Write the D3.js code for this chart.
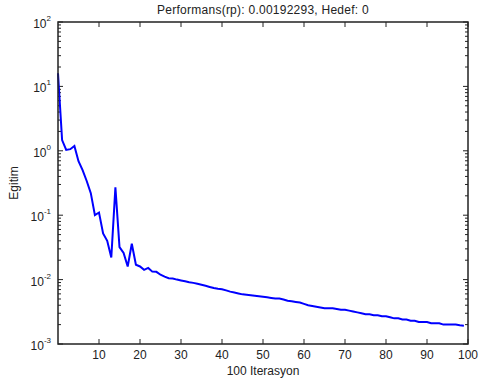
<!DOCTYPE html>
<html>
<head>
<meta charset="utf-8">
<script src="https://cdn.jsdelivr.net/npm/d3@7"></script>
<style>
  body { margin: 0; background: #fff; }
  text { font-family: "Liberation Sans", Arial, sans-serif; fill: #222; }
</style>
</head>
<body>
<svg id="chart" width="482" height="389"></svg>
<script>
// training performance per epoch
const epochs = d3.range(0, 101);
const perf = [
  16, 1.47, 1.03, 1.06, 1.19, 0.69, 0.5, 0.34, 0.22, 0.1,
  0.11, 0.052, 0.04, 0.022, 0.27, 0.032, 0.026, 0.016, 0.036, 0.017,
  0.016, 0.0142, 0.0152, 0.0133, 0.0132, 0.0119, 0.0111, 0.0105, 0.0104, 0.0100,
  0.0097, 0.0094, 0.0091, 0.0089, 0.0086, 0.0083, 0.0080, 0.0077, 0.0074, 0.0072,
  0.0071, 0.0068, 0.0065, 0.0063, 0.0061, 0.0059, 0.0058, 0.0057, 0.0056, 0.0055,
  0.0054, 0.0053, 0.0052, 0.0051, 0.0051, 0.0049, 0.0047, 0.0046, 0.0045, 0.0044,
  0.0042, 0.0040, 0.0039, 0.0038, 0.0037, 0.0036, 0.0036, 0.0036, 0.0035, 0.0034,
  0.0034, 0.0033, 0.0032, 0.0031, 0.0030, 0.0029, 0.0029, 0.0028, 0.0028, 0.0027,
  0.0027, 0.0026, 0.0025, 0.0025, 0.0024, 0.0024, 0.0023, 0.0023, 0.0022, 0.0022,
  0.0022, 0.0021, 0.0021, 0.0021, 0.0020, 0.0020, 0.0020, 0.0020, 0.00195, 0.00192293
];
const xTicks = [10, 20, 30, 40, 50, 60, 70, 80, 90, 100];
const yDecades = [-3, -2, -1, 0, 1, 2];

const svg = d3.select('#chart');
const margin = { left: 58, top: 22, right: 14, bottom: 45 };
const W = 482, H = 389;

const x = d3.scaleLinear().domain([0, 100]).range([margin.left, W - margin.right]);
const y = d3.scaleLog().domain([1e-3, 1e2]).range([H - margin.bottom, margin.top]);

// minor log ticks
const minor = [];
for (let d = -3; d < 2; d++) {
    for (let m = 2; m <= 9; m++) minor.push(m * Math.pow(10, d));
}

const g = svg.append('g');

// ticks (inward, mirrored on all sides)
const tk = g.append('g').attr('stroke', '#222').attr('stroke-width', 1);
xTicks.forEach(t => {
    tk.append('line').attr('x1', x(t)).attr('x2', x(t))
        .attr('y1', y(1e-3)).attr('y2', y(1e-3) - 5);
    tk.append('line').attr('x1', x(t)).attr('x2', x(t))
        .attr('y1', y(1e2)).attr('y2', y(1e2) + 5);
});
yDecades.forEach(d => {
    const v = Math.pow(10, d);
    tk.append('line').attr('x1', x(0)).attr('x2', x(0) + 5).attr('y1', y(v)).attr('y2', y(v));
    tk.append('line').attr('x1', x(100)).attr('x2', x(100) - 5).attr('y1', y(v)).attr('y2', y(v));
});
minor.forEach(v => {
    tk.append('line').attr('x1', x(0)).attr('x2', x(0) + 3).attr('y1', y(v)).attr('y2', y(v));
    tk.append('line').attr('x1', x(100)).attr('x2', x(100) - 3).attr('y1', y(v)).attr('y2', y(v));
});

// line
const line = d3.line()
    .x((d, i) => x(epochs[i]))
    .y(d => y(d));

g.append('path')
    .datum(perf)
    .attr('fill', 'none')
    .attr('stroke', '#0000ff')
    .attr('stroke-width', 2)
    .attr('d', line);

// box
g.append('rect')
    .attr('x', x(0)).attr('y', y(1e2))
    .attr('width', x(100) - x(0)).attr('height', y(1e-3) - y(1e2))
    .attr('fill', 'none').attr('stroke', '#222').attr('stroke-width', 1.5);

// x tick labels
g.selectAll('.xl').data(xTicks).join('text')
    .attr('x', d => x(d)).attr('y', y(1e-3) + 15)
    .attr('text-anchor', 'middle').attr('font-size', 12)
    .text(d => d);

// y tick labels: 10 with superscript
yDecades.forEach(d => {
    const t = g.append('text')
        .attr('x', x(0) - 7).attr('y', y(Math.pow(10, d)) + 6)
        .attr('text-anchor', 'end').attr('font-size', 12);
    t.append('tspan').text('10');
    t.append('tspan').attr('font-size', 8).attr('dy', -7).text(d);
});

// title and axis labels
svg.append('text')
    .attr('x', (x(0) + x(100)) / 2).attr('y', 14)
    .attr('text-anchor', 'middle').attr('font-size', 12)
    .attr('letter-spacing', 0.25)
    .text('Performans(rp): 0.00192293, Hedef: 0');

svg.append('text')
    .attr('x', (x(0) + x(100)) / 2).attr('y', 375)
    .attr('text-anchor', 'middle').attr('font-size', 12)
    .text('100 Iterasyon');

svg.append('text')
    .attr('transform', `translate(18,${(y(1e2) + y(1e-3)) / 2}) rotate(-90)`)
    .attr('text-anchor', 'middle').attr('font-size', 12)
    .text('Egitim');
</script>
</body>
</html>
